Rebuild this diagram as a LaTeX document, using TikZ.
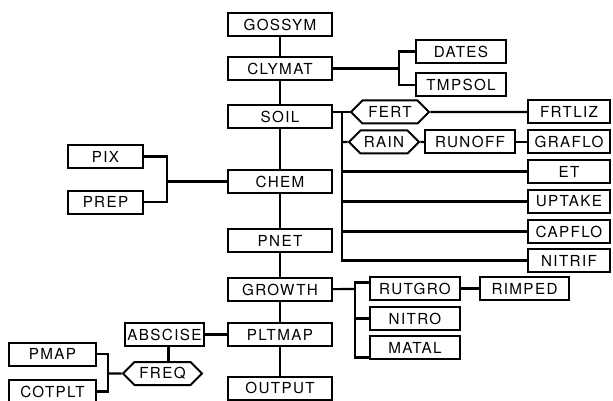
\documentclass[tikz,border=0pt]{standalone}
\usepackage{fontspec}
\newfontfamily\flowfont{TeX Gyre Heros}[LetterSpace=9]
\usetikzlibrary{shapes.symbols,positioning}
\tikzset{
  box/.style={draw,line width=2pt,fill=white,inner sep=0pt,minimum height=23pt,
    font=\flowfont\fontsize{15.2}{16}\selectfont},
  hexbox/.style={box,shape=signal,signal to=west and east,signal pointer angle=90},
  wire/.style={draw,line width=2.2pt}
}

\begin{document}
\begin{tikzpicture}[x=1pt,y=-1pt]
\useasboundingbox (0,0) rectangle (613,401);
\foreach \n/\y in {GOSSYM/24.5,CLYMAT/68.5,SOIL/116.5,CHEM/181.5,PNET/240.5,GROWTH/289.5,PLTMAP/334.5,OUTPUT/388}
  \node[box,minimum width=104pt] (\n) at (280,\y) {\n};
\foreach \n/\y in {FRTLIZ/112,GRAFLO/142,ET/171.5,UPTAKE/201.5,CAPFLO/231.5,NITRIF/260.5}
  \node[box,minimum width=82pt] (\n) at (569,\y) {\n};
\foreach \n/\y in {RUTGRO/288.5,NITRO/318.5,MATAL/347.5}
  \node[box,minimum width=90pt] (\n) at (415,\y) {\n};
\node[box,minimum width=90pt] (DATES) at (461,51.5) {DATES};
\node[box,minimum width=90pt] (TMPSOL) at (461,85) {TMPSOL};
\node[box,minimum width=75pt] (PIX) at (105.5,156.5) {PIX};
\node[box,minimum width=75pt] (PREP) at (105.5,202) {PREP};
\node[hexbox,minimum width=78pt] (FERT) at (390,112) {FERT};
\node[hexbox,minimum width=70pt] (RAIN) at (384,142) {RAIN};
\node[box,minimum width=90pt] (RUNOFF) at (470,142) {RUNOFF};
\node[box,minimum width=89pt] (RIMPED) at (524.5,288.5) {RIMPED};
\node[box,minimum width=79pt] (ABSCISE) at (164.5,334.5) {ABSCISE};
\node[hexbox,minimum width=79pt] (FREQ) at (162.5,373.5) {FREQ};
\node[box,minimum width=87pt] (PMAP) at (52.5,354) {PMAP};
\node[box,minimum width=87pt] (COTPLT) at (52.5,391.5) {COTPLT};

\foreach \a/\b in {GOSSYM/CLYMAT,CLYMAT/SOIL,SOIL/CHEM,CHEM/PNET,PNET/GROWTH,GROWTH/PLTMAP,PLTMAP/OUTPUT}
  \path[wire] (\a) -- (\b);
\coordinate (clybus) at (399,68.5);
\path[wire] (CLYMAT) -- (clybus);
\path[wire] (DATES) -| (clybus) |- (TMPSOL);
\coordinate (chembus) at (167,181.5);
\path[wire] (CHEM) -- (chembus);
\path[wire] (PIX) -| (chembus) |- (PREP);
\coordinate (soilbus) at (342,112);
\path[wire] (SOIL.east |- FERT.west) -- (FERT.west);
\path[wire] (soilbus) |- (NITRIF);
\foreach \n in {RAIN,ET,UPTAKE,CAPFLO}
  \path[wire] (soilbus |- \n) -- (\n);
\path[wire] (FERT) -- (FRTLIZ);
\path[wire] (RAIN) -- (RUNOFF);
\path[wire] (RUNOFF) -- (GRAFLO);
\coordinate (grobus) at (355,289);
\path[wire] (GROWTH) -- (grobus);
\path[wire] ([yshift=6pt]RUTGRO.west) -| (grobus) |- ([yshift=-10pt]MATAL.west);
\path[wire] (grobus |- NITRO) -- (NITRO);
\path[wire] (RUTGRO) -- (RIMPED);
\path[wire] (PLTMAP) -- (ABSCISE);
\path[wire] ([xshift=4pt]ABSCISE.south) -- ([xshift=4pt]ABSCISE.south |- FREQ.north);
\coordinate (freqbus) at (108,373.5);
\path[wire] (FREQ) -- (freqbus);
\path[wire] (PMAP) -| (freqbus) |- (COTPLT);
\end{tikzpicture}
\end{document}
